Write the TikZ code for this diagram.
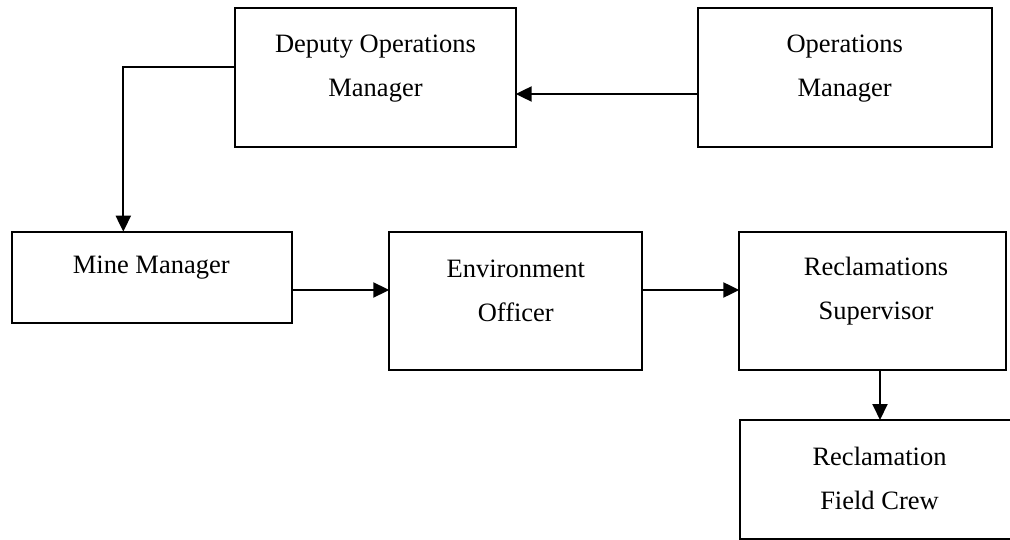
\documentclass[tikz,border=0pt]{standalone}
\usepackage{fontspec}
\setmainfont{Liberation Serif}
\usetikzlibrary{arrows.meta}
\begin{document}
\begin{tikzpicture}[x=1pt,y=-1pt,
  box/.style={draw=black, line width=2pt, inner sep=0pt, outer sep=0pt},
  label/.style={font=\fontsize{26.5}{44}\selectfont, align=center, inner sep=0pt},
  arr/.style={line width=2pt, -{Triangle[length=16pt,width=15pt]}},
  link/.style={line width=2pt}]
  \useasboundingbox (0,0) rectangle (1010,540);
  \clip (0,0) rectangle (1010,540);

  % boxes
  \node[box, minimum width=280.7pt, minimum height=138.4pt] (dep)  at (375.3,77.5) {};
  \node[box, minimum width=294pt,   minimum height=138.4pt] (ops)  at (844.7,77.5) {};
  \node[box, minimum width=280.6pt, minimum height=91pt]    (mine) at (152,277.2) {};
  \node[box, minimum width=252.4pt, minimum height=138.3pt] (env)  at (515.5,300.85) {};
  \node[box, minimum width=266.7pt, minimum height=138.3pt] (sup)  at (872.7,300.85) {};
  \node[box, minimum width=300pt,   minimum height=118.5pt] (crew) at (890,479.25) {};

  % titles
  \node[label] (depT)  at (375.5,69) {Deputy Operations\\Manager};
  \node[label] (opsT)  at (844.7,69) {Operations\\Manager};
  \node[label] (mineT) at (151.3,268) {Mine Manager};
  \node[label] (envT)  at (515.8,291) {Environment\\Officer};
  \node[label] (supT)  at (876,291) {Reclamations\\Supervisor};
  \node[label] (crewT) at (879.5,478) {Reclamation\\Field Crew};

  % helper points for the connector routes
  \coordinate (hOps)  at (0,94);
  \coordinate (bend)  at (123.3,67.3);
  \coordinate (hRow)  at (0,290);
  \coordinate (vCrew) at (880,0);

  % connectors
  \draw[arr] (ops.west |- hOps) -- (dep.east |- hOps);
  \draw[arr] (dep.west |- bend) -- (bend) -- (mine.north -| bend);
  \draw[arr] (mine.east |- hRow) -- (env.west |- hRow);
  \draw[arr] (env.east |- hRow) -- (sup.west |- hRow);
  \draw[arr] (sup.south -| vCrew) -- (crew.north -| vCrew);
\end{tikzpicture}
\end{document}
